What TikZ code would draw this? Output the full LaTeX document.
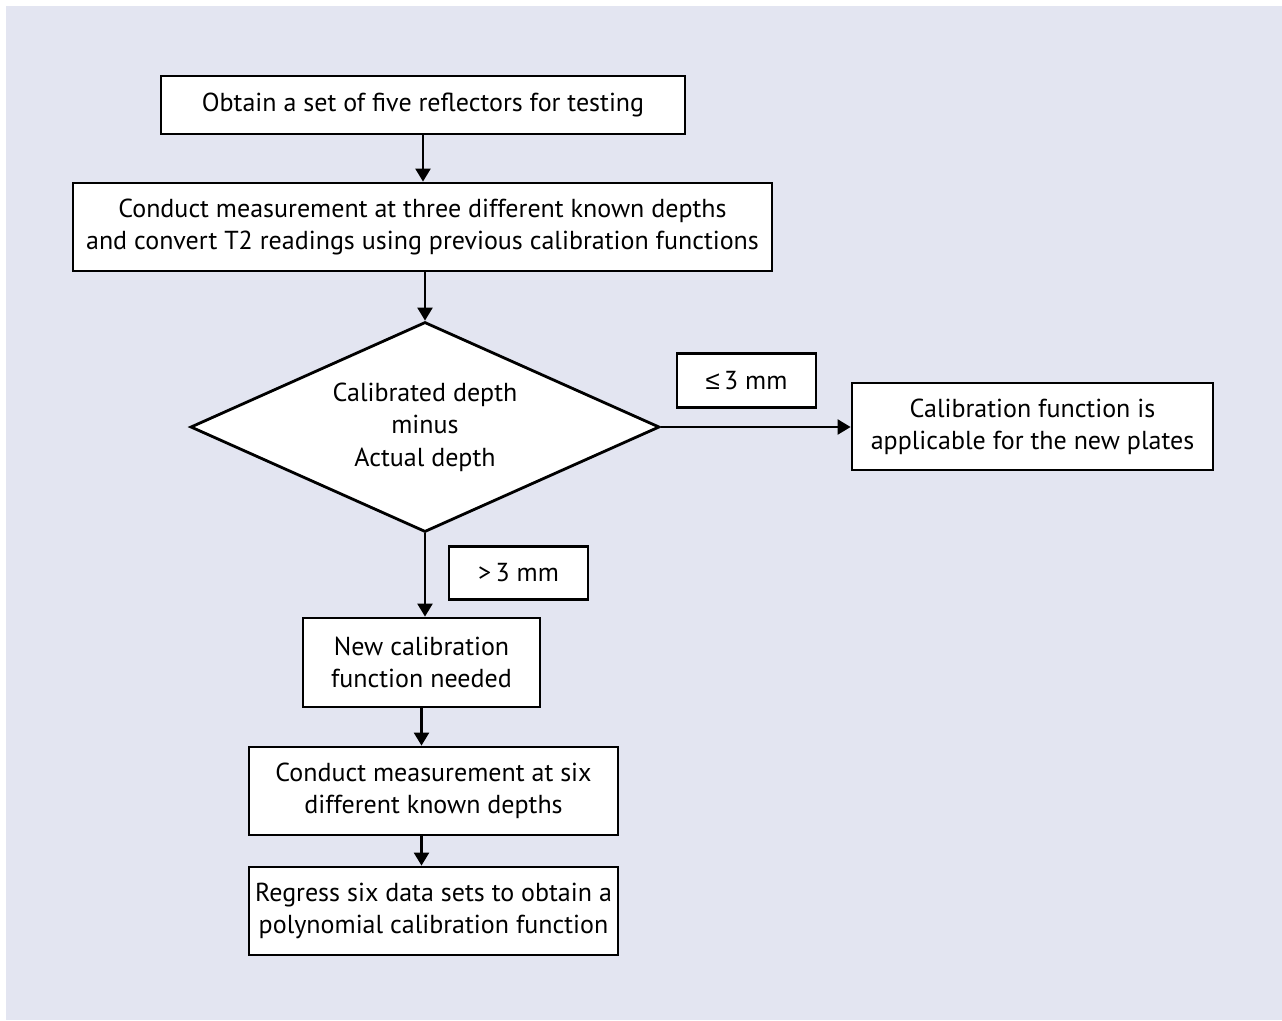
\documentclass[tikz,border=0pt]{standalone}
\usepackage{fontspec}
\setmainfont{PT Sans}
\newfontfamily\symfont{Liberation Sans}
\usetikzlibrary{arrows.meta, shapes.geometric}
\definecolor{panelbg}{RGB}{227,229,241}

\begin{document}
\begin{tikzpicture}[>={Triangle[length=2.6mm, width=3.0mm]}, every node/.style={font=\fontsize{14.8}{18.4}\selectfont},
  flowbox/.style={draw, line width=1.6pt, fill=white, align=center, inner sep=0pt},
  condbox/.style={flowbox, minimum width=2.78cm, minimum height=1.07cm},
  flowline/.style={->, line width=1.3pt}]
  \useasboundingbox (0,0) rectangle (25.64,-20.4);
  \fill[panelbg] (0.12,-0.12) rectangle (25.64,-20.4);
  \node[flowbox, minimum width=10.48cm, minimum height=1.16cm] (obtain) at (8.46,-2.10) {Obtain a set of five reflectors for testing};
  \node[flowbox, minimum width=13.98cm, minimum height=1.76cm] (convert) at (8.45,-4.54) {Conduct measurement at three different known depths\\and convert T2 readings using previous calibration functions};
  \node[flowbox, diamond, aspect=2.2, minimum width=9.38cm, minimum height=4.2cm] (check) at (8.50,-8.54) {Calibrated depth\\minus\\Actual depth};
  \node[condbox] (within) at (14.93,-7.61) {{\symfont ≤}\,3 mm};
  \node[flowbox, minimum width=7.22cm, minimum height=1.74cm] (applies) at (20.65,-8.53) {Calibration function is\\applicable for the new plates};
  \node[condbox] (beyond) at (10.37,-11.46) {>\,3 mm};
  \node[flowbox, minimum width=4.74cm, minimum height=1.78cm] (newfn) at (8.43,-13.25) {New calibration\\function needed};
  \node[flowbox, minimum width=7.38cm, minimum height=1.76cm] (sixdepth) at (8.67,-15.82) {Conduct measurement at six\\different known depths};
  \node[flowbox, minimum width=7.38cm, minimum height=1.76cm] (regress) at (8.67,-18.22) {Regress six data sets to obtain a\\polynomial calibration function};
  \draw[flowline] (obtain.south) -- (obtain.south |- convert.north);
  \draw[flowline] (check.north |- convert.south) -- (check.north);
  \draw[flowline] (check.east) -- (check.east -| applies.west);
  \draw[flowline] (check.south) -- (check.south |- newfn.north);
  \draw[flowline] (newfn.south) -- (newfn.south |- sixdepth.north);
  \draw[flowline] (newfn.south |- sixdepth.south) -- (newfn.south |- regress.north);
\end{tikzpicture}
\end{document}
